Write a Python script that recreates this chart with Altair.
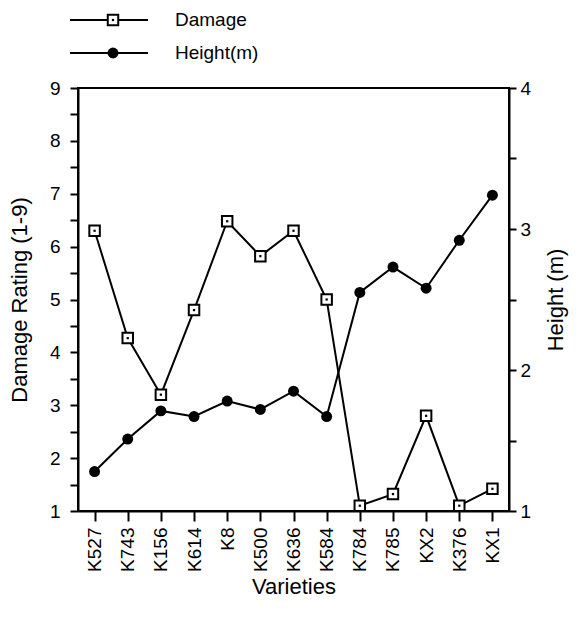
import altair as alt
import pandas as pd

varieties = ["K527", "K743", "K156", "K614", "K8", "K500", "K636", "K584",
             "K784", "K785", "KX2", "K376", "KX1"]
damage = [6.3, 4.27, 3.2, 4.8, 6.48, 5.82, 6.3, 5.0, 1.1, 1.32, 2.8, 1.1, 1.42]
height = [1.28, 1.51, 1.71, 1.67, 1.78, 1.72, 1.85, 1.67, 2.55, 2.73, 2.58, 2.92, 3.24]
series_names = ["Damage", "Height(m)"]

dmg_df = pd.DataFrame({"variety": varieties, "damage": damage})
hgt_df = pd.DataFrame({"variety": varieties, "height": height})
leg_df = pd.DataFrame({"series": series_names})

FONT = "Liberation Sans"
x_enc = alt.X("variety:N", sort=varieties,
              scale=alt.Scale(type="point", padding=0.5, domain=varieties),
              axis=alt.Axis(title="Varieties", labelAngle=270, tickSize=10,
                            labelPadding=6, titlePadding=5))

left_vals = [1 + 0.5 * i for i in range(17)]
right_vals = [1 + 0.5 * i for i in range(7)]
lab_expr = "datum.value % 1 == 0 ? format(datum.value, 'd') : ''"

y_dmg = alt.Y("damage:Q", scale=alt.Scale(domain=[1, 9], nice=False, zero=False),
              axis=alt.Axis(title="Damage Rating (1-9)", values=left_vals,
                            labelExpr=lab_expr, orient="left", tickSize=8,
                            labelPadding=10, titlePadding=18, grid=False))
y_hgt = alt.Y("height:Q", scale=alt.Scale(domain=[1, 4], nice=False, zero=False),
              axis=alt.Axis(title="Height (m)", values=right_vals,
                            labelExpr=lab_expr, orient="right", tickSize=7,
                            labelPadding=4, titlePadding=37, titleAngle=270,
                            grid=False))

dmg_base = alt.Chart(dmg_df).encode(x=x_enc, y=y_dmg)
dmg_line = dmg_base.mark_line(color="black", strokeWidth=2)
dmg_pts = dmg_base.mark_point(shape="square", filled=True, fill="white",
                              stroke="black", strokeWidth=2, size=110, opacity=1)
dmg_dot = dmg_base.mark_point(shape="square", filled=True, color="black",
                              size=5, opacity=1)

hgt_base = alt.Chart(hgt_df).encode(x=x_enc, y=y_hgt)
hgt_line = hgt_base.mark_line(color="black", strokeWidth=2)
hgt_pts = hgt_base.mark_circle(color="black", size=120, opacity=1)

# ---- manual legend (placed above the plot area) ----
def legend_row(name, ypix, kind):
    base = alt.Chart(leg_df).transform_filter(alt.datum.series == name)
    rule = base.mark_rule(color="black", strokeWidth=2).encode(
        x=alt.value(-8), x2=alt.value(70), y=alt.value(ypix))
    txt = base.mark_text(align="left", baseline="middle", fontSize=19,
                         font=FONT, color="black").encode(
        x=alt.value(97), y=alt.value(ypix), text="series:N")
    if kind == "square":
        m1 = base.mark_point(shape="square", filled=True, fill="white",
                             stroke="black", strokeWidth=2, size=110,
                             opacity=1).encode(x=alt.value(35), y=alt.value(ypix))
        m2 = base.mark_point(shape="square", filled=True, color="black",
                             size=5, opacity=1).encode(x=alt.value(35), y=alt.value(ypix))
        return [rule, m1, m2, txt]
    m1 = base.mark_circle(color="black", size=120, opacity=1).encode(
        x=alt.value(35), y=alt.value(ypix))
    return [rule, m1, txt]

legend_layers = legend_row("Damage", -68, "square") + legend_row("Height(m)", -35, "circle")

chart = alt.layer(
    alt.layer(dmg_line, dmg_pts, dmg_dot),
    alt.layer(hgt_line, hgt_pts),
    *legend_layers,
).resolve_scale(y="independent").properties(
    width=431, height=423,
    autosize=alt.AutoSizeParams(type="none"),
    padding={"left": 70, "top": 80, "right": 62, "bottom": 108},
).configure(font=FONT).configure_view(
    stroke="black", strokeWidth=2
).configure_axis(
    labelFont=FONT, titleFont=FONT, labelFontSize=19, titleFontSize=22,
    titleFontWeight="normal", labelColor="black", titleColor="black",
    domainColor="black", tickColor="black", domainWidth=2, tickWidth=2
)

chart.save("out.html", embed_options={"renderer": "svg", "actions": False})
